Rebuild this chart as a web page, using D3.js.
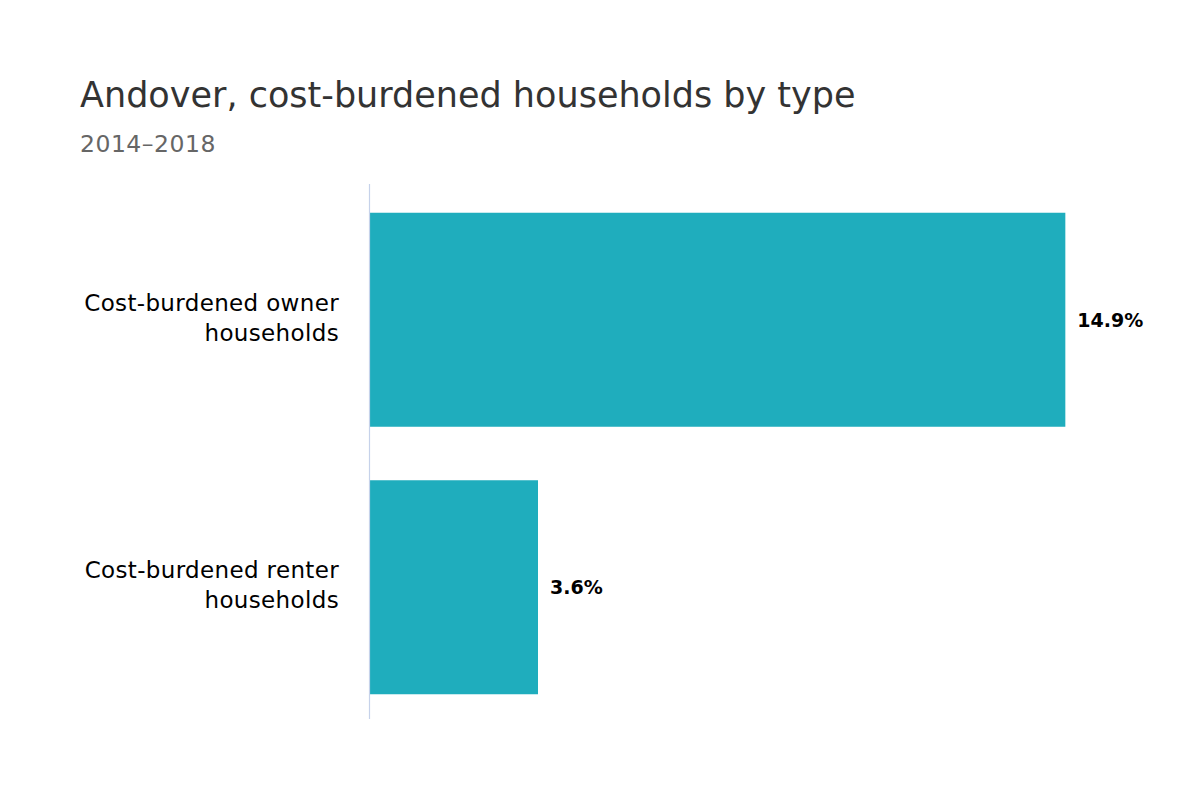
<!DOCTYPE html>
<html>
<head>
<meta charset="utf-8">
<script src="https://cdn.jsdelivr.net/npm/d3@7"></script>
<style>
  body { margin: 0; background: #fff; }
  svg text { font-family: "DejaVu Sans", Verdana, sans-serif; }
</style>
</head>
<body>
<svg id="chart" width="1200" height="800"></svg>
<script>
// data
let categories = ["Cost-burdened owner households", "Cost-burdened renter households"];
let labelLines = [["Cost-burdened owner", "households"], ["Cost-burdened renter", "households"]];
let values = [14.9, 3.6];

let svg = d3.select("#chart");
let plot = { left: 370, right: 1070, top: 186, bottom: 721 };

svg.append("rect").attr("width", 1200).attr("height", 800).attr("fill", "#fff");

svg.append("text")
  .attr("x", 80).attr("y", 107)
  .attr("font-size", 35).attr("fill", "#333")
  .text("Andover, cost-burdened households by type");

svg.append("text")
  .attr("x", 80).attr("y", 152)
  .attr("font-size", 23.5).attr("fill", "#666")
  .attr("letter-spacing", 0.5)
  .text("2014–2018");

let x = d3.scaleLinear().domain([0, 15]).range([plot.left, plot.right]);
let y = d3.scaleBand().domain(categories).range([plot.top, plot.bottom]).paddingInner(0.2).paddingOuter(0.1);

// bars
svg.append("g").selectAll("rect").data(values).join("rect")
  .attr("x", x(0))
  .attr("y", function(d, i) { return y(categories[i]); })
  .attr("width", function(d) { return x(d) - x(0); })
  .attr("height", y.bandwidth())
  .attr("fill", "#1fadbd");

// axis line
svg.append("line")
  .attr("x1", 369.5).attr("x2", 369.5)
  .attr("y1", 184).attr("y2", 719)
  .attr("stroke", "#c6d2ea").attr("stroke-width", 1.2);

// category labels
let cat = svg.append("g").selectAll("text").data(categories).join("text")
  .attr("text-anchor", "end")
  .attr("font-size", 23).attr("fill", "#000")
  .attr("letter-spacing", 0.35)
  .attr("x", 339)
  .attr("y", function(d) { return y(d) + y.bandwidth() / 2 - 9; });
cat.each(function(d, i) {
  let t = d3.select(this);
  labelLines[i].forEach(function(line, j) {
    t.append("tspan").attr("x", 339).attr("dy", j == 0 ? 0 : 30).text(line);
  });
});

// value labels
svg.append("g").selectAll("text").data(values).join("text")
  .attr("x", function(d) { return x(d) + 12; })
  .attr("y", function(d, i) { return y(categories[i]) + y.bandwidth() / 2 + 7; })
  .attr("font-size", 19).attr("font-weight", "bold").attr("fill", "#000")
  .text(function(d) { return d.toFixed(1) + "%"; });
</script>
</body>
</html>
